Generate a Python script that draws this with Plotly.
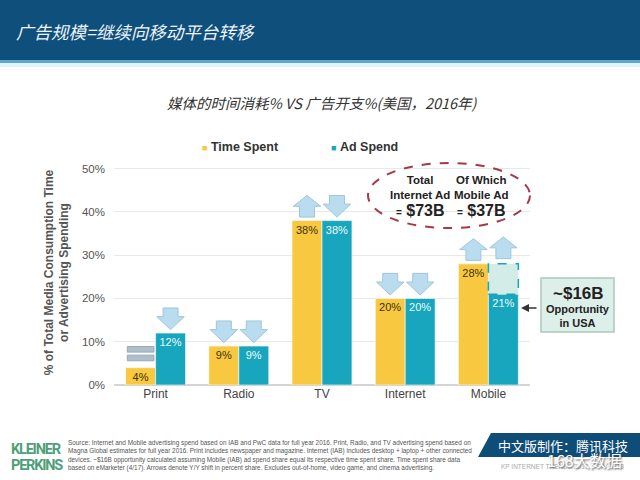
import plotly.graph_objects as go

# data
categories = ["Print", "Radio", "TV", "Internet", "Mobile"]
time_spent = [4, 9, 38, 20, 28]
ad_spend = [12, 9, 38, 20, 21]
# Y/Y shift shown by the arrows above each bar
time_shift = ["flat", "down", "up", "down", "up"]
ad_shift = ["down", "down", "down", "down", "up"]
y_ticks = [0, 10, 20, 30, 40, 50]
y_ticktext = ["0%", "10%", "20%", "30%", "40%", "50%"]
gap_category = "Mobile"

YELLOW = "#f8c840"
TEAL = "#17a6bd"
ARROW = "#b9dcef"
ARROW_LINE = "#9fc6dd"
LATIN = "Liberation Sans, Arial, sans-serif"
CJK = "Noto Sans CJK SC, sans-serif"

W, H = 640, 480
L, R, T, B = 114, 110, 160, 95
pw, ph = W - L - R, H - T - B


def px(x):
    return (x - L) / pw


def py(y):
    return (H - B - y) / ph


bargap = 0.28
bar_w = (1 - bargap) / 2
x = list(range(len(categories)))

fig = go.Figure()
fig.add_bar(x=x, y=time_spent, name="Time Spent",
            marker=dict(color=YELLOW, line=dict(color="white", width=0.6)),
            text=[f"{v}%" for v in time_spent], textposition="inside",
            insidetextanchor="end", constraintext="none", textangle=0,
            textfont=dict(color="#3b3212", size=11, family=LATIN))
fig.add_bar(x=x, y=ad_spend, name="Ad Spend",
            marker=dict(color=TEAL, line=dict(color="white", width=0.6)),
            text=[f"{v}%" for v in ad_spend], textposition="inside",
            insidetextanchor="end", constraintext="none", textangle=0,
            textfont=dict(color="#eef9fc", size=11, family=LATIN))

shapes = []


def block_arrow(cx, base, direction):
    hw, sw, h, g = 0.165, 0.09, 5.0, 0.8
    y0, y1 = base + g, base + g + h
    if direction == "up":
        ym = y0 + h * 0.5
        p = (f"M{cx-sw},{y0} L{cx+sw},{y0} L{cx+sw},{ym} L{cx+hw},{ym} "
             f"L{cx},{y1} L{cx-hw},{ym} L{cx-sw},{ym} Z")
    else:
        ym = y0 + h * 0.6
        p = (f"M{cx},{y0} L{cx+hw},{ym} L{cx+sw},{ym} L{cx+sw},{y1} "
             f"L{cx-sw},{y1} L{cx-sw},{ym} L{cx-hw},{ym} Z")
    return dict(type="path", path=p, xref="x", yref="y", fillcolor=ARROW,
                line=dict(color=ARROW_LINE, width=1), layer="above")


def equal_sign(cx, base):
    out = []
    for lo in (base + 1.6, base + 3.6):
        out.append(dict(type="rect", xref="x", yref="y", x0=cx - 0.16, x1=cx + 0.16,
                        y0=lo, y1=lo + 1.3, fillcolor="#aebfcb",
                        line=dict(color="#98aab7", width=1)))
    return out


gi = categories.index(gap_category)
for i in x:
    cy = i - bar_w / 2
    ct = i + bar_w / 2
    if time_shift[i] == "flat":
        shapes += equal_sign(cy, time_spent[i])
    else:
        shapes.append(block_arrow(cy, time_spent[i], time_shift[i]))
    base = max(ad_spend[i], time_spent[i]) + 0.4 if i == gi else ad_spend[i]
    shapes.append(block_arrow(ct, base, ad_shift[i]))

# opportunity gap on mobile ad spend
shapes.append(dict(type="rect", xref="x", yref="y", x0=gi, x1=gi + bar_w,
                   y0=ad_spend[gi], y1=time_spent[gi], fillcolor="#d4ece7",
                   line=dict(color=TEAL, width=1.5, dash="dash")))

# header band
shapes.append(dict(type="rect", xref="paper", yref="paper", x0=px(0), x1=px(W),
                   y0=py(60), y1=py(0), fillcolor="#0e4f7b", line_width=0, layer="below"))
shapes.append(dict(type="rect", xref="paper", yref="paper", x0=px(0), x1=px(W),
                   y0=py(63), y1=py(60), fillcolor="#5ea9c9", line_width=0))
shapes.append(dict(type="rect", xref="paper", yref="paper", x0=px(0), x1=px(W),
                   y0=py(67), y1=py(63), fillcolor="#e3f3f8", line_width=0))

# dashed ellipse
shapes.append(dict(type="circle", xref="paper", yref="paper", x0=px(368), x1=px(530),
                   y0=py(228), y1=py(163), line=dict(color="#a33a48", width=2, dash="dash")))

# opportunity box
shapes.append(dict(type="rect", xref="paper", yref="paper", x0=px(541), x1=px(614),
                   y0=py(332), y1=py(278), fillcolor="#dcefe9",
                   line=dict(color="#a9c9bf", width=1.5)))

# footer badge
shapes.append(dict(type="path", xref="paper", yref="paper",
                   path=(f"M{px(478)},{py(457)} L{px(491)},{py(433)} L{px(640)},{py(433)} "
                         f"L{px(640)},{py(457)} Z"),
                   fillcolor="#0e4d78", line_width=0))

annotations = []


def note(text, x0, y0, size, color="#222", family=LATIN, xanchor="center", **kw):
    annotations.append(dict(text=text, x=px(x0), y=py(y0), xref="paper", yref="paper",
                            showarrow=False, xanchor=xanchor, yanchor="middle",
                            font=dict(size=size, color=color, family=family,
                                      **kw.pop("font", {})), **kw))


note("广告规模=继续向移动平台转移", 14, 31, 17.5, color="#eef4f8", family=CJK,
     xanchor="left", font=dict(style="italic"))
note("媒体的时间消耗% VS 广告开支%(美国，2016年)", 322, 103, 14.5, color="#333",
     family=CJK, font=dict(style="italic"))

# legend
note(f"<span style='color:{YELLOW};font-size:9px'>■</span> <b>Time Spent</b>",
     200, 147, 12.5, color="#333", xanchor="left")
note(f"<span style='color:{TEAL};font-size:9px'>■</span> <b>Ad Spend</b>",
     329, 147, 12.5, color="#333", xanchor="left")

# ellipse text
note("<b>Total<br>Internet Ad</b>", 420, 187, 11.5, align="center")
note("<b><span style='font-size:10px'>=</span> $73B</b>", 420, 210, 16)
note("<b>Of Which<br>Mobile Ad</b>", 481, 187, 11.5, align="center")
note("<b><span style='font-size:10px'>=</span> $37B</b>", 481, 210, 16)

# opportunity box text
note("<b>~$16B</b>", 578, 293, 17)
note("<b>Opportunity<br>in USA</b>", 578, 316, 11, align="center")
annotations.append(dict(x=px(521), y=py(308), xref="paper", yref="paper", text="",
                        showarrow=True, ax=17, ay=0, arrowhead=2, arrowsize=1,
                        arrowwidth=1.6, arrowcolor="#333"))

# footer
tight = "letter-spacing:-1.2px"
note(f"<span style='{tight}'><b>KLEINER</b></span>", 9, 449, 14.5, color="#4e9f79",
     family="Roboto, " + LATIN, xanchor="left")
note(f"<span style='{tight}'><b>PERKINS</b></span>", 9, 465, 14.5, color="#4e9f79",
     family="Roboto, " + LATIN, xanchor="left")
source = ("Source: Internet and Mobile advertising spend based on IAB and PwC data for full year 2016. "
          "Print, Radio, and TV advertising spend based on<br>"
          "Magna Global estimates for full year 2016. Print includes newspaper and magazine. "
          "Internet (IAB) includes desktop + laptop + other connected<br>"
          "devices. ~$16B opportunity calculated assuming Mobile (IAB) ad spend share equal its "
          "respective time spent share. Time spent share data<br>"
          "based on eMarketer (4/17). Arrows denote Y/Y shift in percent share. Excludes "
          "out-of-home, video game, and cinema advertising.")
note(source, 66, 455, 6.4, color="#555", xanchor="left", align="left")
note("中文版制作：腾讯科技", 563, 445, 13, color="#ffffff", family=CJK)
note("KP INTERNET TRENDS 2017  |  PAGE 13", 562, 467, 6.5, color="#aaaaaa")
note("168大数据", 584, 460, 16, color="#ffffff", family=CJK,
     font=dict(shadow="1px 1px 2px #555"))

fig.update_layout(
    width=W, height=H, margin=dict(l=L, r=R, t=T, b=B),
    paper_bgcolor="white", plot_bgcolor="white",
    barmode="group", bargap=bargap, bargroupgap=0,
    showlegend=False, hovermode=False,
    shapes=shapes, annotations=annotations,
    xaxis=dict(range=[-0.5, len(categories) - 0.5], tickvals=x, ticktext=categories,
               showgrid=False, zeroline=False, showline=False,
               tickfont=dict(size=12, color="#444", family=LATIN)),
    yaxis=dict(range=[0, 52], tickvals=y_ticks, ticktext=y_ticktext,
               showgrid=True, gridcolor="#e8e8e8", gridwidth=1,
               zeroline=True, zerolinecolor="#d5d5d5", zerolinewidth=1.5,
               ticklabelstandoff=8,
               tickfont=dict(size=11.5, color="#555", family=LATIN),
               title=dict(text="<b>% of Total Media Consumption Time<br>or Advertising Spending</b>",
                          font=dict(size=12, color="#555", family=LATIN), standoff=10)),
)

# drop the page's default body margin so the 640x480 figure fills the window
fig.write_html("out.html", config={"displayModeBar": False},
               post_script="document.body.style.margin='0';")
